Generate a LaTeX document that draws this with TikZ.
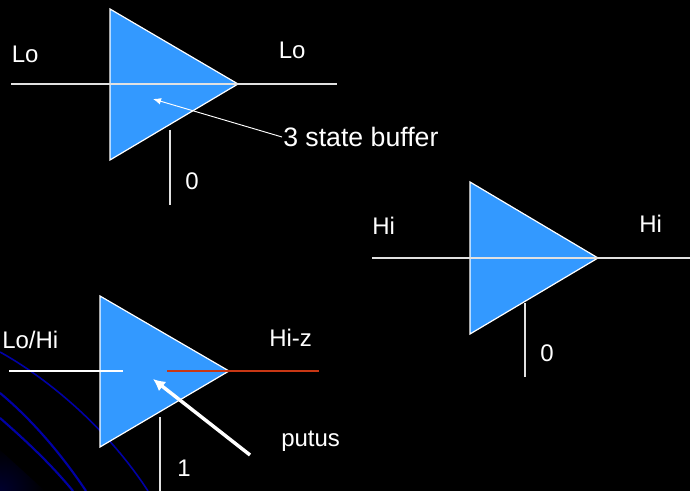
\documentclass[tikz,border=0pt]{standalone}
\usepackage{fontspec}
\setmainfont{Liberation Sans}
\usetikzlibrary{arrows.meta,shadings}
\definecolor{tribl}{RGB}{51,153,255}
\definecolor{curveb}{RGB}{0,0,165}
\definecolor{wire}{RGB}{225,225,225}
\definecolor{redw}{RGB}{200,55,20}
\tikzset{
  tri/.style={fill=tribl,draw=white,line width=0.9pt,line join=miter},
  wireline/.style={draw=wire,line width=0.9pt},
  lbl/.style={text=white,inner sep=0pt,font=\fontsize{18pt}{20pt}\selectfont,anchor=base west},
  bgcurve/.style={draw=curveb,line width=1.6pt},
  ptr/.style={draw=white,-{Latex[length=6pt,width=5pt]}}
}
\begin{document}
\begin{tikzpicture}[x=0.75pt,y=-0.75pt]
\useasboundingbox (0,0) rectangle (690,491);
\fill[black] (0,0) rectangle (690,491);
% background corner glow and curves
\begin{scope}
\clip (0,491) -- (0,450) -- (45,491) -- cycle;
\shade[inner color=black!70!blue!60!black,outer color=black] (0,491) circle (45);
\end{scope}
\draw[bgcurve,line width=1.2pt] (0,352) .. controls (45,377) and (105,425) .. (148,491);
\draw[bgcurve] (0,393) .. controls (30,418) and (60,452) .. (86,491);
\draw[bgcurve] (0,418) .. controls (25,440) and (50,463) .. (73,491);
% top buffer
\coordinate (a1) at (110,9); \coordinate (a2) at (238,84); \coordinate (a3) at (110,160);
\coordinate (ai) at (11,84); \coordinate (ao) at (337,84);
\coordinate (ac1) at (170,130); \coordinate (ac2) at (170,205);
\filldraw[tri] (a1) -- (a2) -- (a3) -- cycle;
\draw[wireline] (ai) -- (ao);
\draw[wireline] (ac1) -- (ac2);
% right buffer
\coordinate (b1) at (470,182); \coordinate (b2) at (598,258); \coordinate (b3) at (470,334);
\coordinate (bi) at (372,258); \coordinate (bo) at (690,258);
\coordinate (bc1) at (525,303); \coordinate (bc2) at (525,377);
\filldraw[tri] (b1) -- (b2) -- (b3) -- cycle;
\draw[wireline] (bi) -- (bo);
\draw[wireline] (bc1) -- (bc2);
% bottom buffer
\coordinate (c1) at (100,296); \coordinate (c2) at (229,371); \coordinate (c3) at (100,447);
\coordinate (ci) at (9,371); \coordinate (cj) at (123,371);
\coordinate (ck) at (167,371); \coordinate (co) at (319,371);
\coordinate (cc1) at (160,417); \coordinate (cc2) at (160,491);
\filldraw[tri] (c1) -- (c2) -- (c3) -- cycle;
\draw[draw=white,line width=0.8pt] (ci) -- (cj);
\draw[draw=redw,line width=0.9pt] (ck) -- (co);
\draw[wireline] (cc1) -- (cc2);
% labels
\node[lbl] (lo1) at (11.5,62.5) {Lo};
\node[lbl] (lo2) at (278.5,58.5) {Lo};
\node[lbl,font=\fontsize{20pt}{22pt}\selectfont] (buf) at (283,146.5) {3 state buffer};
\node[lbl] (z1) at (185,190) {0};
\node[lbl] (hi1) at (372,235) {Hi};
\node[lbl] (hi2) at (639,233) {Hi};
\node[lbl] (z2) at (540,362) {0};
\node[lbl] (lohi) at (2,349) {Lo/Hi};
\node[lbl] (hiz) at (269,347) {Hi-z};
\node[lbl] (put) at (281,447) {putus};
\node[lbl] (one) at (177,477) {1};
% pointers
\coordinate (p1) at (153,99);
\coordinate (p2) at (282,137);
\coordinate (q1) at (153,379);
\coordinate (q2) at (250,455);
\draw[ptr,line width=0.7pt] (p2) -- (p1);
\draw[draw=white,line width=2.6pt,-{Latex[length=9pt,width=9pt]}] (q2) -- (q1);
\end{tikzpicture}
\end{document}
